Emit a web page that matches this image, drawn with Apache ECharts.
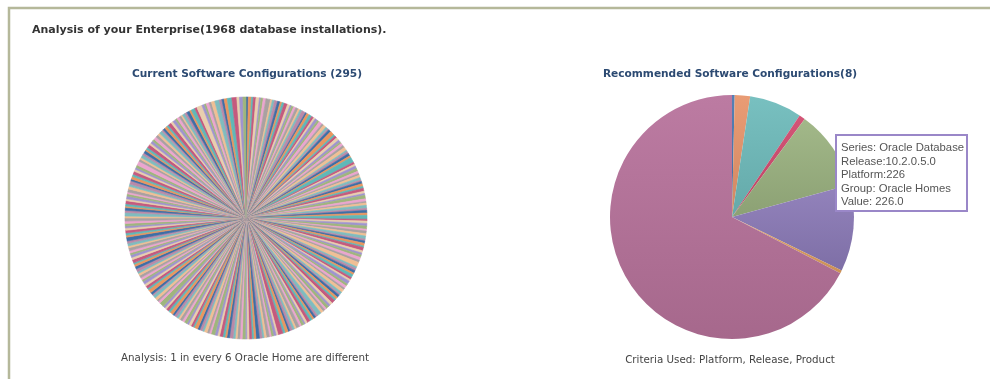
<!DOCTYPE html>
<html>
<head>
<meta charset="utf-8">
<script src="https://cdn.jsdelivr.net/npm/echarts@6/dist/echarts.min.js"></script>
<style>
  html, body { margin: 0; padding: 0; background: #fff; }
  #chart { width: 990px; height: 379px; }
</style>
</head>
<body>
<div id="chart"></div>
<script>
// current configurations: 295 slices, 1968 installations in total
const currentValues = [
  6,8,5,7,9,4,6,7,12,5,6,8,7,5,6,9,7,4,6,6,
  7,5,6,10,4,7,8,6,5,7,6,9,5,8,6,4,7,11,5,6,
  8,6,5,7,6,9,4,6,7,5,14,6,5,7,8,6,5,6,7,4,
  6,7,5,8,6,5,9,7,4,6,8,5,7,6,10,5,6,7,8,5,
  7,6,8,5,6,7,4,9,6,5,7,8,6,12,5,6,7,5,8,6,
  5,9,6,7,5,8,6,4,7,6,5,9,7,6,8,5,6,7,11,6,
  6,5,7,8,6,4,7,6,9,5,6,7,5,8,6,13,5,7,6,5,
  8,6,5,7,9,6,5,7,6,4,8,6,7,5,6,9,7,5,6,8,
  6,7,10,5,6,8,5,7,6,9,4,6,7,5,8,6,7,5,6,7,
  5,8,6,7,5,6,12,6,5,7,8,4,6,9,5,7,6,8,5,6,
  7,6,5,8,7,6,4,9,6,7,5,6,8,5,7,6,10,5,6,7,
  6,5,7,6,8,5,9,6,7,4,6,8,5,7,6,5,8,7,6,9,
  5,7,6,8,6,5,7,11,6,5,8,6,7,4,6,9,5,7,6,8,
  7,6,8,5,6,7,5,9,6,8,5,7,6,4,7,6,8,5,10,6,
  14,7,5,8,6,9,12,7,6,8,12,13,7,9,8
];
const currentPalette = ['#3e6ea6','#e9965f','#5fb8b8','#c45a7e','#e8cfae','#9f94cf',
  '#9fb57d','#eba5cf','#a9a1a1','#f0bf94','#7fbcbf','#b98aa8'];

// recommended configurations: 8 slices (clockwise from 12 o'clock)
const recReleases = ['11.2.0.3.0','11.1.0.7.0','10.2.0.4.0','11.2.0.2.0','11.2.0.1.0','10.2.0.5.0','9.2.0.8.0','11.2.0.4.0'];
const recValues = [7, 40, 137, 16, 208, 226, 8, 1326];
const recColors = ['#4a78b0','#e8966c','#6fbcbc','#d04a6e','#9cb381','#8c7bb8','#e0a060','#b8739c'];

const hoverIndex = 5;

function shade(hex, f) {
  const n = parseInt(hex.slice(1), 16);
  const c = [(n >> 16) & 255, (n >> 8) & 255, n & 255].map(v =>
    Math.max(0, Math.min(255, Math.round(f > 0 ? v + (255 - v) * f : v * (1 + f)))));
  return 'rgb(' + c.join(',') + ')';
}

const chart = echarts.init(document.getElementById('chart'), null, { renderer: 'canvas' });

const tipLines = [
  'Series: Oracle Database',
  'Release:' + recReleases[hoverIndex],
  'Platform:' + recValues[hoverIndex],
  'Group: Oracle Homes',
  'Value: ' + recValues[hoverIndex].toFixed(1)
];

const boldSmall = { fontFamily: 'DejaVu Sans', fontSize: 10.6, fontWeight: 'bold', color: '#2c4a72' };
const plainSmall = { fontFamily: 'DejaVu Sans', fontSize: 10.3, fontWeight: 'normal', color: '#444' };

const option = {
  animation: false,
  title: [
    { text: 'Analysis of your Enterprise(1968 database installations).', left: 32, top: 25, padding: 0,
      textStyle: { fontFamily: 'DejaVu Sans', fontSize: 11, fontWeight: 'bold', color: '#333' } },
    { text: 'Current Software Configurations (295)', left: 247, top: 69, padding: 0, textAlign: 'center',
      textStyle: boldSmall },
    { text: 'Recommended Software Configurations(8)', left: 730, top: 69, padding: 0, textAlign: 'center',
      textStyle: boldSmall },
    { text: 'Analysis: 1 in every 6 Oracle Home are different', left: 245, top: 353, padding: 0, textAlign: 'center',
      textStyle: plainSmall },
    { text: 'Criteria Used: Platform, Release, Product', left: 730, top: 355, padding: 0, textAlign: 'center',
      textStyle: plainSmall }
  ],
  series: [
    {
      type: 'pie',
      center: [246, 218],
      radius: [0, 121],
      startAngle: 90,
      label: { show: false },
      labelLine: { show: false },
      silent: true,
      data: currentValues.map((v, i) => {
        const c = currentPalette[i % currentPalette.length];
        return { value: v, name: 'Home ' + (i + 1),
          itemStyle: { color: c, borderColor: c, borderWidth: 0.6 } };
      })
    },
    {
      type: 'pie',
      center: [732, 217],
      radius: [0, 122],
      startAngle: 90,
      label: { show: false },
      labelLine: { show: false },
      silent: true,
      itemStyle: { borderWidth: 0 },
      data: recValues.map((v, i) => ({
        value: v,
        name: recReleases[i],
        itemStyle: {
          color: new echarts.graphic.LinearGradient(0, 0, 0, 1, [
            { offset: 0, color: shade(recColors[i], 0.06) },
            { offset: 1, color: shade(recColors[i], -0.1) }
          ])
        }
      }))
    }
  ],
  graphic: [
    { type: 'rect', x: 9, y: 8, z: -1,
      shape: { x: 0, y: 0, width: 1000, height: 400 },
      style: { fill: 'none', stroke: '#b5b89a', lineWidth: 2.5 } },
    { type: 'rect', x: 836, y: 135, z: 100,
      shape: { x: 0, y: 0, width: 131, height: 76 },
      style: { fill: '#fff', stroke: '#9a87c8', lineWidth: 2 } },
    { type: 'text', x: 841, y: 141, z: 101,
      style: { text: tipLines.join('\n'), fill: '#555', lineHeight: 13.6,
        font: '11.3px "Liberation Sans"' } }
  ]
};

chart.setOption(option);
</script>
</body>
</html>
